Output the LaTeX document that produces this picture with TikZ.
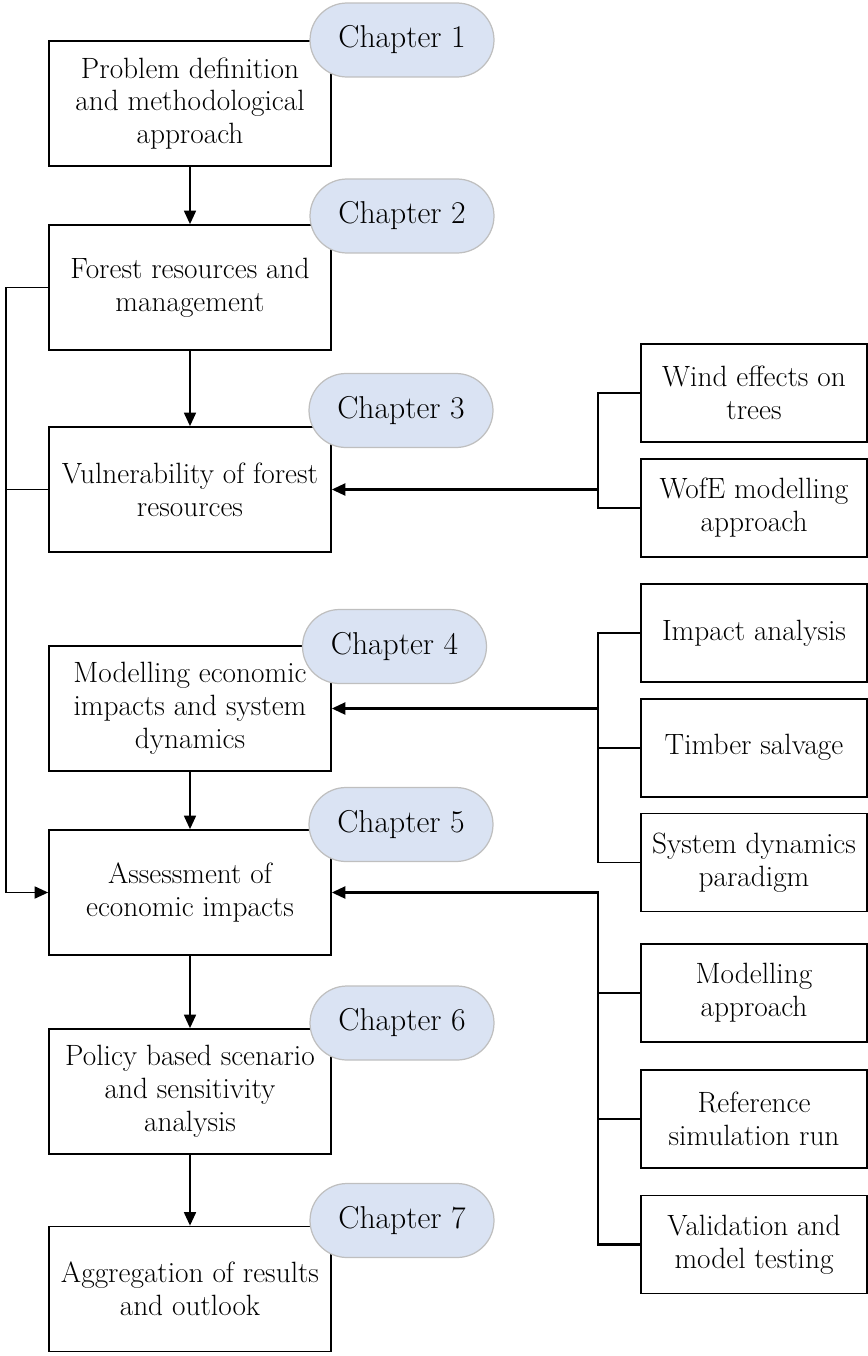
\documentclass[tikz,border=0pt]{standalone}
\usepackage{fontspec}
\usepackage{tikz}
\usetikzlibrary{positioning, arrows.meta, calc}
\definecolor{chapter_blue}{HTML}{DAE3F3}
\definecolor{chapter_grey}{HTML}{BFBFBF}
\tikzstyle{block} = [rectangle, minimum width=5.64cm, minimum height=2.5cm, text centered, align=center, draw=black, line width=1pt, inner sep=0pt, font=\fontsize{16.7}{18.7}\selectfont]
\tikzstyle{subblock} = [block, minimum width=4.52cm, minimum height=1.96cm]
\tikzstyle{chapter} = [rectangle, rounded corners=0.74cm, minimum width=3.68cm, minimum height=1.48cm, fill=chapter_blue, draw=chapter_grey, line width=0.7pt, font=\fontsize{18}{22}\selectfont]
\tikzstyle{arrow} = [line width=1pt, -{Triangle[length=0.27cm,width=0.24cm]}]
\tikzstyle{thickarrow} = [arrow, line width=1.3pt]
\tikzstyle{link} = [line width=1pt]

\begin{document}
\begin{tikzpicture}[x=0.02cm, y=-0.02cm]
    \useasboundingbox (0,0) rectangle (868,1356);
    % chapters
    \node (problem) [block] at (190,103.5) {Problem definition\\and methodological\\approach};
    \node (forest) [block] at (190,287.5) {Forest resources and\\management};
    \node (vuln) [block] at (190,489.5) {Vulnerability of forest\\resources};
    \node (modecon) [block] at (190,708.5) {Modelling economic\\impacts and system\\dynamics};
    \node (assess) [block] at (190,892.5) {Assessment of\\economic impacts};
    \node (policy) [block] at (190,1091.5) {Policy based scenario\\and sensitivity\\analysis};
    \node (aggr) [block] at (190,1289) {Aggregation of results\\and outlook};
    % topics
    \node (wind) [subblock] at (754,393) {Wind effects on\\trees};
    \node (wofe) [subblock, below=0.3cm of wind] {WofE modelling\\approach};
    \node (impact) [subblock] at (754,633) {Impact analysis};
    \node (timber) [subblock, below=0.3cm of impact] {Timber salvage};
    \node (sysdyn) [subblock, below=0.3cm of timber] {System dynamics\\paradigm};
    \node (modapp) [subblock] at (754,993) {Modelling\\approach};
    \node (refsim) [subblock, below=0.52cm of modapp] {Reference\\simulation run};
    \node (valid) [subblock, below=0.52cm of refsim] {Validation and\\model testing};
    % main flow
    \draw [arrow] (problem) -- (forest);
    \draw [arrow] (forest) -- (vuln);
    \draw [arrow] (modecon) -- (assess);
    \draw [arrow] (assess) -- (policy);
    \draw [arrow] (policy) -- (aggr);
    \draw [arrow] (forest.west) -- ++(-42,0) |- (assess.west);
    \draw [link] (vuln.west) -- ++(-42,0);
    % brackets
    \draw [link] (wind.west) -- ++(-42,0) |- (wofe.west);
    \draw [thickarrow] (wind.west) ++(-42,0) |- (vuln.east);
    \draw [link] (impact.west) -- ++(-42,0) |- (sysdyn.west);
    \draw [link] (timber.west) -- ++(-42,0);
    \draw [thickarrow] (impact.west) ++(-42,0) |- (modecon.east);
    \draw [link] (modapp.west) -- ++(-42,0);
    \draw [link] (refsim.west) -- ++(-42,0);
    \draw [thickarrow] (valid.west) -- ++(-42,0) |- (assess.east);
    % labels
    \node (ch1) [chapter] at (402,40) {Chapter 1};
    \node (ch2) [chapter] at (402,216) {Chapter 2};
    \node (ch3) [chapter] at (401,410.5) {Chapter 3};
    \node (ch4) [chapter] at (394.5,646.5) {Chapter 4};
    \node (ch5) [chapter] at (401,824.5) {Chapter 5};
    \node (ch6) [chapter] at (402,1023) {Chapter 6};
    \node (ch7) [chapter] at (402,1220.5) {Chapter 7};
\end{tikzpicture}
\end{document}
